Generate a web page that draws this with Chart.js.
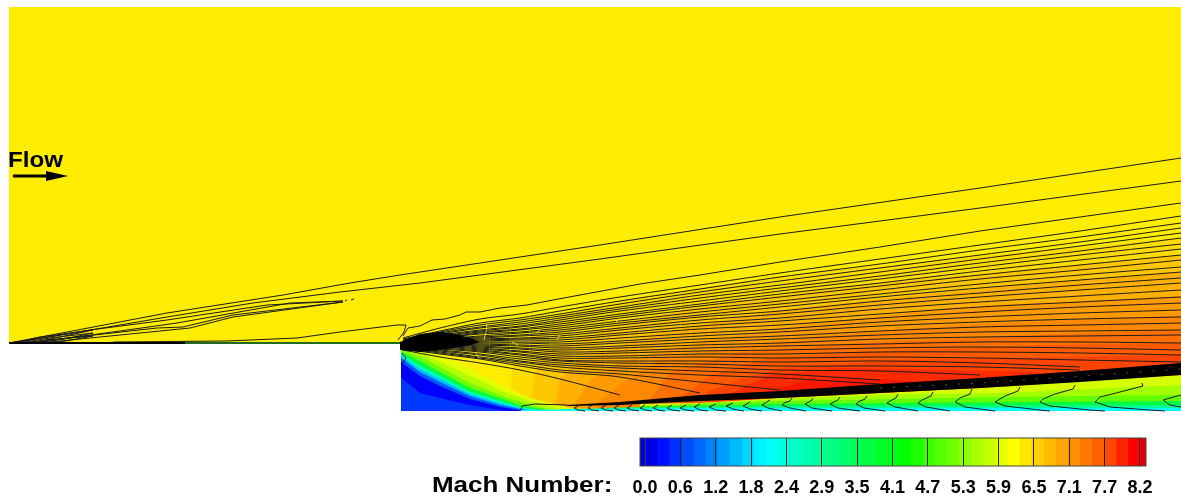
<!DOCTYPE html>
<html>
<head>
<meta charset="utf-8">
<title>Mach Number</title>
<script src="https://cdn.jsdelivr.net/npm/chart.js@4"></script>
<style>
    html, body { margin: 0; padding: 0; background: #fff; overflow: hidden; }
    #campo { position: absolute; left: 0; top: 0; }
    #barra { position: absolute; left: 0; top: 430px; }
    .rotulo { position: absolute; font: bold 22px "Liberation Sans", Arial, sans-serif; color: #000; transform-origin: left top; white-space: nowrap; }
</style>
</head>
<body>
<canvas id="campo" width="1181" height="502"></canvas>
<canvas id="barra" width="1181" height="72"></canvas>
<div class="rotulo" style="left:8px;top:147px;transform:scaleX(1.1)">Flow</div>
<div class="rotulo" style="left:432px;top:472px;transform:scaleX(1.18)">Mach Number:</div>
<script>
// Legend levels
const machLabels = ['0.0', '0.6', '1.2', '1.8', '2.4', '2.9', '3.5', '4.1', '4.7', '5.3', '5.9', '6.5', '7.1', '7.7', '8.2'];
const machSteps = [0, 0.2, 0.4, 0.6, 0.8, 1.0, 1.2, 1.4, 1.6, 1.8, 2.0, 2.2, 2.4, 2.6, 2.8, 3.0, 3.2, 3.4, 3.6, 3.8, 4.0, 4.2, 4.4, 4.6, 4.8, 5.0, 5.2, 5.4, 5.6, 5.8, 6.0, 6.2, 6.4, 6.6, 6.8, 7.0, 7.2, 7.4, 7.6, 7.8, 8.0, 8.2];
const freestreamMach = 6.25;

// Expansion fan: Mach of each band and its upper edge
const fanMach = [6.4, 6.58, 6.8, 7.0, 7.17, 7.37, 7.55, 7.72, 7.86, 7.97];
const fanEdges = [
    [[510,400],[512,372],[520,345],[560,315],[640,297],[780,276],[980,256],[1181,238]],
    [[530,404],[535,375],[545,352],[600,330],[700,306],[860,285],[1000,272],[1181,255]],
    [[555,405],[560,378],[580,360],[650,335],[780,310],[900,297],[1040,283],[1181,272]],
    [[575,404],[590,380],[620,362],[700,342],[800,325],[960,307],[1181,296]],
    [[597,403],[630,378],[663,358],[820,336],[960,325],[1181,315]],
    [[650,400],[670,372],[740,352],[860,343],[1040,335],[1181,330]],
    [[680,398],[710,375],[770,358],[900,350],[1050,345],[1181,343]],
    [[707,392],[745,378],[780,368],[900,360],[1181,355]],
    [[730,394],[770,375],[840,368],[950,370],[1040,372]],
    [[780,388],[810,380],[880,379],[930,383]]
];

// Recirculation behind the step
const recircMach = [5.9, 5.55, 5.1, 3.7, 2.6, 1.55, 0.8, 0.2, 0.55];
const recircEdges = [
    [[401,346],[440,355],[470,368],[500,385],[530,398],[570,408],[620,411]],
    [[401,347],[430,357],[470,376],[500,390],[530,401],[560,409],[590,411]],
    [[401,349],[425,359],[470,383],[500,395],[530,405],[555,410],[570,411]],
    [[401,352],[420,361],[440,372],[470,388],[500,398],[520,405],[550,411]],
    [[401,354],[420,366],[440,376],[470,392],[500,401],[520,407],[545,411]],
    [[401,356],[420,369],[440,379],[470,394],[500,403],[520,408],[535,411]],
    [[401,358],[420,372],[440,382],[470,396],[500,405],[530,411]],
    [[401,362],[420,376],[440,386],[470,399],[500,407],[525,411]],
    [[401,378],[420,393],[440,398],[470,405],[500,410],[510,411]]
];

// Boundary layer below the shear band
const wallMach = [5.8, 5.45, 5.0, 3.7, 2.9, 2.0];
const wallEdges = [
    [[640,404],[700,403],[780,398],[880,393],[980,388],[1181,375]],
    [[700,403],[780,399],[880,395],[1000,393],[1181,385]],
    [[640,406],[780,401],[900,399],[1000,397],[1181,395]],
    [[600,408],[780,404],[900,403],[1181,401]],
    [[560,409],[780,406],[900,406],[1181,405]],
    [[520,410],[700,408],[780,408],[1181,408]]
];

// Dark shear band and the black knot at the corner
const shearTop = [[567,405],[620,402],[700,395],[780,391],[880,384],[980,378],[1080,371],[1181,363]];
const shearBottom = [[567,406],[620,405],[700,401],[780,398],[880,393],[980,388],[1080,382],[1181,375]];
const shearSpecks = [[880,388],[980,383],[1080,376],[1181,369]];
const knotTop = [[400,342],[420,334],[440,332],[455,334],[470,338],[480,342]];
const knotBottom = [[400,350],[420,352],[440,350],[455,348],[470,345],[480,342]];

// Contour lines leaving the corner, y read at each station
const fanStations = [403, 440, 480, 520, 560, 620, 700, 780, 880, 980, 1080, 1181];
const fanContours = [
    [338,328,319,314,307,297,285,273,259,245,231,216],
    [339,331,323,318,311,301,289,277,264,250,237,223],
    [340,332,325,320,314,304,292,281,268,255,242,228],
    [340,333,327,322,316,307,295,285,272,259,246,233],
    [341,334,328,324,318,309,298,288,276,263,251,238],
    [341,335,330,326,320,311,301,291,279,267,255,244],
    [341,336,331,327,322,314,304,294,283,271,260,249],
    [342,337,332,329,324,316,306,297,286,275,265,255],
    [342,338,333,330,326,318,309,301,290,279,270,260],
    [342,338,334,332,328,321,312,304,294,284,275,267],
    [343,339,336,333,330,323,315,307,297,288,280,272],
    [343,339,337,335,332,325,317,311,301,293,285,278],
    [343,340,338,336,334,328,320,314,305,297,290,283],
    [343,340,339,338,336,330,323,318,309,302,296,290],
    [343,341,340,339,338,333,326,321,314,307,302,297],
    [344,341,341,340,340,335,329,325,318,312,307,303],
    [344,342,342,342,342,338,333,329,322,317,313,310],
    [344,342,343,343,344,341,336,332,326,322,319,317],
    [344,343,344,345,346,343,339,336,331,327,325,323],
    [344,343,345,346,348,346,342,339,335,332,331,330],
    [345,344,346,348,350,348,345,343,339,337,336,335],
    [345,344,347,349,352,351,348,346,344,342,342,343],
    [345,345,348,351,354,353,351,350,348,347,348,350],
    [346,346,349,352,356,356,354,354,352,352,353,355],
    [346,347,350,354,358,358,357,358,357,358,360,362],
    [346,348,351,355,360,361,361,362,361,363,367],
    [347,349,352,357,361,363,364,366,366,367,370],
    [347,350,354,359,363,366,367,370,371,375],
    [347,351,355,361,365,368,371,374,380],
    [348,352,357,362,367,371,375,378,384],
    [348,353,358,364,370,374,382,390],
    [349,354,359,366,372,377,393],
    [350,357,363,370,379,395]
];

// Contours from the leading edge of the plate, and the wavy top of the fan
const edgeContours = [
    [[9,343],[67,332],[167,313],[283,295],[350,283],[400,275],[420,272],[600,245],[780,217],[980,188],[1181,158]],
    [[9,343],[67,334],[167,317],[253,303],[340,292],[420,283],[600,259],[780,234],[980,208],[1181,181]],
    [[20,342],[90,330],[167,320],[267,305],[343,301],[290,303],[177,323],[120,331],[40,342]],
    [[20,343],[67,338],[157,328],[183,327],[233,315],[343,302],[233,317],[190,328],[90,338],[40,343]],
    [[113,342],[227,341],[297,338],[340,332],[397,325],[406,325],[404,332],[398,340]],
    [[14,343],[40,337],[93,330],[60,337],[30,343]],
    [[18,343],[50,338],[93,333],[64,339],[36,343]],
    [[24,343],[60,339],[93,336],[66,341],[44,343]],
    [[345,301],[347,300]],
    [[351,300],[354,299]],
    [[403,336],[408,328],[420,326],[432,320],[445,319],[460,315],[466,312],[480,312],[500,308],[527,305],[553,300],[580,295],[640,284],[700,275],[780,262],[880,247],[980,231],[1080,217],[1181,203]],
    [[402,353],[406,358],[404,362],[401,363]]
];

// Pale flecks inside the dense part of the fan
const fanFlecks = [
    [[487,324],[486,332],[484,340]],
    [[475,352],[479,358]],
    [[560,335],[557,340]],
    [[512,342],[518,345]],
    [[620,318],[616,322]],
    [[540,330],[536,333]]
];

// Hooks along the wall
const wallContours = [
    [[1181,395],[1163,400],[1170,405],[1181,407]],
    [[1142,383],[1143,386],[1120,392],[1100,397],[1095,402],[1110,407],[1150,410],[1165,411]],
    [[1075,385],[1073,389],[1055,394],[1043,399],[1040,402],[1050,406],[1090,410],[1105,411]],
    [[1020,387],[1018,391],[1005,396],[995,402],[1005,406],[1040,410],[1050,411]],
    [[972,389],[970,394],[960,398],[955,402],[965,407],[995,411]],
    [[933,392],[931,396],[922,400],[918,403],[926,407],[950,411]],
    [[898,394],[896,398],[890,401],[887,403],[895,407],[918,411]],
    [[867,396],[865,399],[858,402],[856,404],[864,408],[885,411]],
    [[840,397],[838,400],[832,403],[830,404],[838,408],[860,411]],
    [[813,398],[811,401],[807,403],[805,404],[812,408],[832,411]],
    [[792,398],[790,401],[784,403],[782,405],[790,408],[806,411]],
    [[770,400],[762,405],[768,408],[782,411]],
    [[750,402],[743,406],[750,409],[762,411]],
    [[733,403],[726,406],[733,409],[744,411]],
    [[716,404],[709,407],[716,410],[726,411]],
    [[700,404],[694,407],[700,410],[708,411]],
    [[686,405],[680,408],[686,410],[694,411]],
    [[672,405],[667,408],[672,410],[680,411]],
    [[658,405],[653,408],[658,410],[665,411]],
    [[645,405],[640,408],[645,410],[652,411]],
    [[632,405],[627,408],[632,410],[639,411]],
    [[619,405],[614,408],[619,410],[626,411]],
    [[606,405],[601,408],[606,410],[613,411]],
    [[592,405],[588,408],[592,410],[599,411]],
    [[578,406],[574,408],[578,410],[585,411]],
    [[520,411],[522,406],[535,404],[567,405]]
];

// Outline of the domain and the flow arrow
const domainTop = [[9,7],[1181,7]];
const stepTop = [[401,344],[1181,344]];
const plateDark = [[9,343],[185,343]];
const plateGreen = [[185,343],[400,343]];
const arrowShaft = [[13,176],[52,176]];
const arrowHeadTop = [[46,171],[68,176]];
const arrowHeadBottom = [[46,181],[68,176]];

// Colour map, same for the field and the legend
const coresMach = [
    [0, [0, 0, 208]], [0.2, [0, 0, 255]], [0.6, [0, 64, 255]], [1.2, [0, 144, 255]], [2.0, [0, 255, 255]],
    [2.9, [0, 255, 154]], [4.3, [0, 255, 0]], [6.1, [255, 255, 0]], [6.5, [255, 208, 0]], [7.1, [255, 144, 0]],
    [7.7, [255, 72, 0]], [8.1, [255, 0, 0]], [8.3, [224, 0, 0]]
];

function corMach(m) {
    for (let i = 1; i < coresMach.length; i++) {
        const a = coresMach[i - 1], b = coresMach[i];
        if (m <= b[0]) {
            const t = (m - a[0]) / (b[0] - a[0]);
            const c = a[1].map((v, k) => Math.round(v + (b[1][k] - v) * t));
            return 'rgb(' + c.join(',') + ')';
        }
    }
    return 'rgb(224,0,0)';
}

const pontos = lista => lista.map(p => ({ x: p[0], y: p[1] }));

function preenchido(lista, cor, base) {
    return { data: pontos(lista), showLine: true, pointRadius: 0, borderWidth: 0, backgroundColor: cor, fill: base };
}

function linha(lista, cor, largura) {
    return { data: pontos(lista), showLine: true, pointRadius: 0, borderColor: cor, borderWidth: largura || 1, fill: false };
}

// Datasets in paint order, reversed below because Chart.js paints the first one last
const camadas = [];
const amarelo = corMach(freestreamMach);
camadas.push(preenchido(domainTop, amarelo, { value: 344 }));
camadas.push(preenchido(stepTop, amarelo, { value: 411 }));
fanEdges.forEach((e, i) => camadas.push(preenchido(e, corMach(fanMach[i]), { value: 411 })));
recircEdges.forEach((e, i) => camadas.push(preenchido(e, corMach(recircMach[i]), { value: 411 })));
wallEdges.forEach((e, i) => camadas.push(preenchido(e, corMach(wallMach[i]), { value: 411 })));
fanContours.forEach(row => {
    const contorno = linha(row.map((y, i) => [fanStations[i], y]), '#1c1c1c');
    contorno.tension = 0.3;
    camadas.push(contorno);
});
edgeContours.forEach(c => camadas.push(linha(c, '#1c1c1c')));
wallContours.forEach(c => camadas.push(linha(c, '#1c1c1c')));
// '+1' fills to the layer painted just before, once the list is reversed
camadas.push(preenchido(shearTop, '#000', false));
camadas.push(preenchido(shearBottom, '#000', '+1'));
camadas.push(preenchido(knotTop, '#000', false));
camadas.push(preenchido(knotBottom, '#000', '+1'));
fanFlecks.forEach(c => camadas.push(linha(c, '#e6c84a')));
const motas = linha(shearSpecks, '#5c5c28', 1);
motas.borderDash = [2, 11];
camadas.push(motas);
camadas.push(linha(plateGreen, '#1f6b1f', 2));
camadas.push(linha(plateDark, '#000', 2));
camadas.push(linha(arrowShaft, '#000', 3));
camadas.push(preenchido(arrowHeadTop, '#000', { value: 176 }));
camadas.push(preenchido(arrowHeadBottom, '#000', { value: 176 }));

const graficoCampo = new Chart(document.getElementById('campo'), {
    type: 'scatter',
    data: { datasets: camadas.reverse() },
    options: {
        responsive: false,
        animation: false,
        layout: { padding: 0 },
        plugins: { legend: { display: false }, tooltip: { enabled: false } },
        scales: {
            x: { type: 'linear', min: 0, max: 1181, display: false },
            y: { type: 'linear', min: 0, max: 502, reverse: true, display: false }
        }
    }
});

// Legend: the axis runs in level index, one unit per labelled level
const passoNivel = 8.2 / (machLabels.length - 1);
const degrau = (de, ate, cor) => ({
    data: [[de, ate]],
    backgroundColor: cor,
    borderWidth: 0,
    barPercentage: 1,
    categoryPercentage: 1,
    grouped: false
});
const degraus = machSteps.slice(0, -1).map((m, i) =>
    degrau(m / passoNivel, machSteps[i + 1] / passoNivel, corMach((m + machSteps[i + 1]) / 2)));
degraus.unshift(degrau(-0.14, 0, corMach(0)));
degraus.push(degrau(14, 14.17, corMach(8.3)));

const contornoBarra = {
    id: 'contornoBarra',
    afterDraw(chart) {
        const a = chart.chartArea, ctx = chart.ctx;
        ctx.save();
        ctx.strokeStyle = '#444';
        ctx.lineWidth = 1;
        ctx.strokeRect(a.left, a.top, a.right - a.left, a.bottom - a.top);
        ctx.restore();
    }
};

const graficoBarra = new Chart(document.getElementById('barra'), {
    type: 'bar',
    data: { labels: ['Mach Number'], datasets: degraus },
    plugins: [contornoBarra],
    options: {
        indexAxis: 'y',
        responsive: false,
        animation: false,
        layout: { padding: { left: 640, right: 35, top: 8, bottom: 0 } },
        plugins: { legend: { display: false }, tooltip: { enabled: false } },
        scales: {
            y: { display: false },
            x: {
                type: 'linear',
                min: -0.14,
                max: 14.17,
                afterFit(scale) { scale.height = 36; },
                afterBuildTicks(scale) { scale.ticks = machLabels.map((l, i) => ({ value: i })); },
                grid: { color: '#222', z: 1, drawTicks: false },
                border: { display: false },
                ticks: {
                    autoSkip: false,
                    maxRotation: 0,
                    padding: 11,
                    color: '#000',
                    font: { family: '"Liberation Sans"', size: 18, weight: 'bold' },
                    callback: (v) => machLabels[v]
                }
            }
        }
    }
});
</script>
</body>
</html>
